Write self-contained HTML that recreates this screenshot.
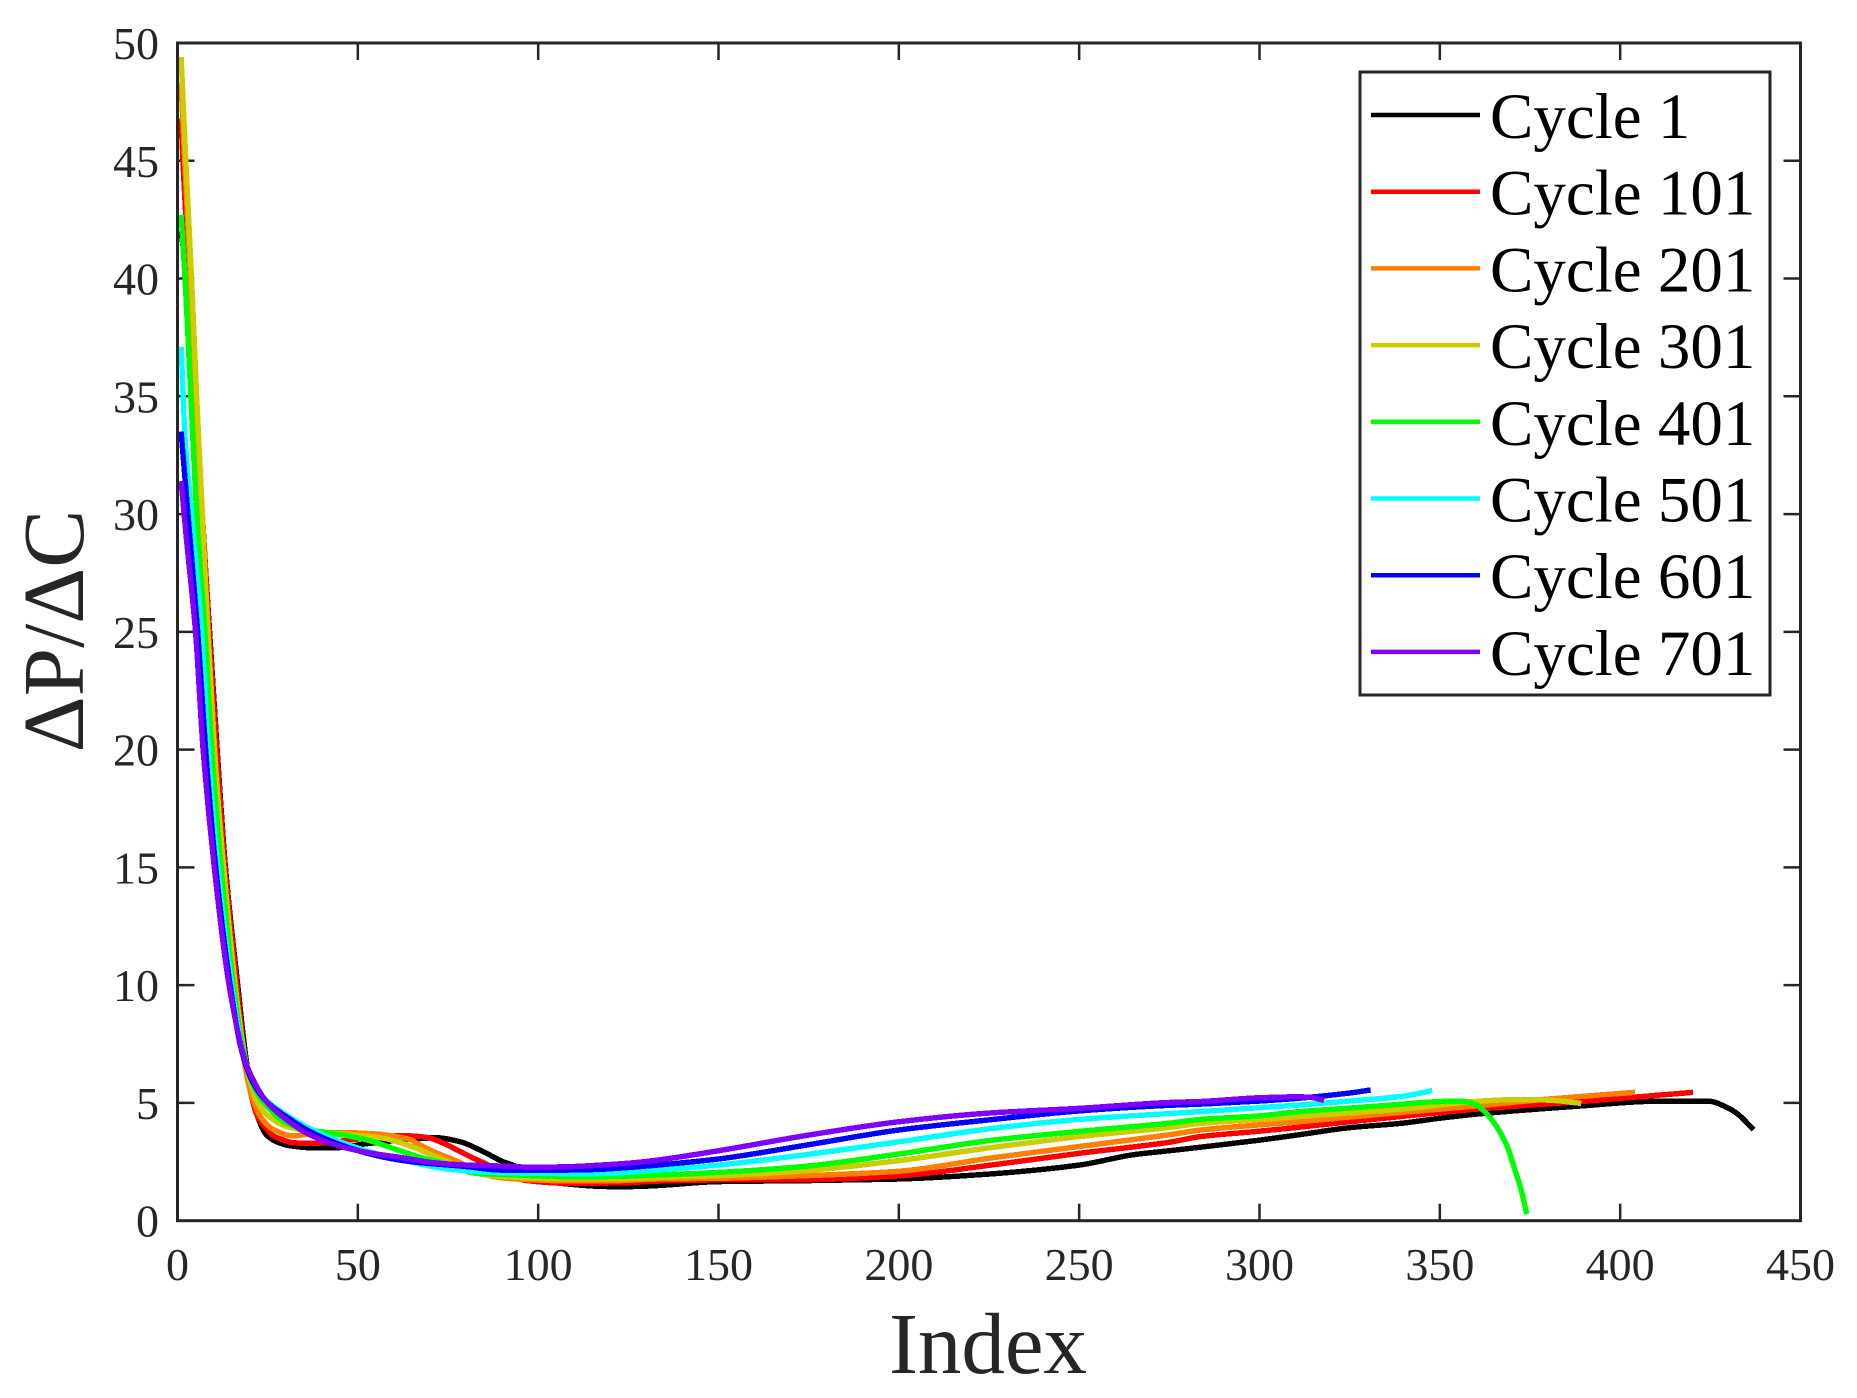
<!DOCTYPE html>
<html lang="en">
<head>
<meta charset="utf-8">
<title>ΔP/ΔC vs Index</title>
<style>
html,body{margin:0;padding:0;background:#fff;width:1857px;height:1398px;overflow:hidden}
svg{display:block;font-family:"Liberation Serif","DejaVu Serif",serif}
</style>
</head>
<body>
<svg id="chart" width="1857" height="1398" viewBox="0 0 1857 1398" xmlns="http://www.w3.org/2000/svg">
  <rect width="1857" height="1398" fill="#fff"/>
  <g id="ticks"></g>
  <g id="series"></g>
  <rect x="177.5" y="43" width="1623" height="1177.7" fill="none" stroke="#262626" stroke-width="3"/>
  <g id="xlabels"></g>
  <g id="ylabels"></g>
  <text x="988" y="1373" font-size="87" fill="#262626" text-anchor="middle">Index</text>
  <text transform="translate(83 631) rotate(-90)" font-size="87" fill="#262626" text-anchor="middle">ΔP/ΔC</text>
  <g id="legend">
    <rect x="1360" y="72" width="410" height="623" fill="#fff" stroke="#262626" stroke-width="3"/>
  </g>
</svg>
<script>
const xTicks = [0, 50, 100, 150, 200, 250, 300, 350, 400, 450];
const yTicks = [0, 5, 10, 15, 20, 25, 30, 35, 40, 45, 50];

const legendLabels = ["Cycle 1", "Cycle 101", "Cycle 201", "Cycle 301", "Cycle 401", "Cycle 501", "Cycle 601", "Cycle 701"];
const lineColors = ["#000000", "#ff0000", "#ff8000", "#cccc00", "#00ff00", "#00ffff", "#0000ff", "#8000ff"];

const cycle1Index = [1,2.6,4.5,6.8,8.9,11,13.3,16.7,18.9,20.5,22.5,24.7,27.5,31.2,36.8,44.2,51.5,57,64,71.9,78.4,84.8,90.3,93,100,108,119,126.4,133,150,174,200,225,250,265,275,283.6,300,311,325,339,350,360.6,390,409.8,424.7,429.6,432.6,437];
const cycle1Value = [42,40,35,30,25,20,15,10,7,5.5,4.3,3.64,3.35,3.18,3.1,3.1,3.25,3.35,3.45,3.52,3.35,2.93,2.5,2.36,1.75,1.56,1.45,1.45,1.49,1.66,1.7,1.77,1.98,2.36,2.8,2.97,3.12,3.42,3.65,3.95,4.13,4.35,4.53,4.88,5.07,5.07,4.81,4.53,3.86];

const cycle101Index = [1,1.5,3.2,4.6,6.9,8.8,10.9,13.2,16.5,18.6,20.2,22,23.8,26.6,29.3,32,36.8,40.4,47.9,57,62.6,69.1,73.7,80.2,84.8,90,97,108,122,133,150,174,200,225,250,275,283.6,300,311,325,339,360.6,390,420.2];
const cycle101Value = [46.8,45,40,35,30,25,20,15,10,7,5.5,4.5,4.06,3.6,3.43,3.31,3.28,3.3,3.43,3.57,3.61,3.54,3.29,2.79,2.46,2.1,1.7,1.59,1.6,1.68,1.73,1.74,1.9,2.35,2.86,3.33,3.57,3.8,3.97,4.2,4.42,4.74,5.07,5.45];

const cycle201Index = [1,2,3.6,5,6.8,8.5,10.3,12.7,15.7,18,20.1,22.9,26.6,32.1,36.8,46,55,64.5,66.3,71,77.4,87.6,94,108,122,133,150,174,200,225,250,275,283.6,300,311,325,339,360.6,380.4,404.1];
const cycle201Value = [48.3,45,40,35,30,25,20,15,10,7.2,5.57,4.44,3.87,3.6,3.68,3.74,3.68,3.45,3.29,2.93,2.53,1.87,1.77,1.69,1.7,1.77,1.8,1.91,2.1,2.65,3.15,3.65,3.85,4.07,4.2,4.4,4.59,4.88,5.17,5.45];

const cycle301Index = [1,2.3,3.9,5.3,6.9,8.4,10.2,12.8,16,18,20,22,24.7,30.3,36.8,46,57,66.3,71,74.7,84.8,94,108,122,133,150,174,200,225,250,275,283.6,300,311,325,339,360.6,370.6,380,389.2];
const cycle301Value = [49.4,45,40,35,30,25,20,15,10,7.6,6,5.1,4.5,4,3.8,3.68,3.5,3.07,2.75,2.53,1.96,1.84,1.77,1.78,1.83,1.91,2.12,2.55,3.09,3.57,3.96,4.13,4.3,4.42,4.58,4.73,5.07,5.14,5.12,4.98];

const cycle401Index = [1,2.1,3.7,5.3,7.6,9.5,12.1,15.5,18,21,24.7,30.3,36.8,46,52.5,61.7,68.2,73.7,83,94,108,117,133,150,174,200,225,250,275,283.6,300,311,325,339,348.8,355.7,359.7,362.6,365.6,368.6,370.6,372.5,374.1];
const cycle401Value = [42.7,40,35,30,25,20,15,10,7.4,5.75,4.87,4.14,3.85,3.64,3.43,2.97,2.65,2.45,2.01,1.94,1.87,1.87,1.94,2.05,2.31,2.83,3.4,3.79,4.14,4.3,4.45,4.63,4.78,4.94,5.05,5.08,4.95,4.6,4.03,3.18,2.26,1.34,0.28];

const cycle501Index = [1,2.2,3.9,6.7,8.5,11.2,15,17.5,20.5,24.7,30,36.8,46,55,64.5,75.6,89.5,108,117,126,133,150,174,200,225,250,275,283.6,300,311,325,339,347.9];
const cycle501Value = [37.1,33,30,25,20,15,10,7.6,6,5.1,4.5,3.9,3.3,2.85,2.5,2.18,2.04,2,2,2.06,2.15,2.36,2.8,3.35,3.9,4.3,4.55,4.63,4.8,4.91,5.08,5.27,5.52];

const cycle601Index = [1,2.9,5.6,7.8,10.6,14.6,17.5,20.5,24.7,30,36.8,46,55,64.5,80,89.5,108,117,126,133,150,174,200,225,250,275,283.6,300,311,325,330.8];
const cycle601Value = [33.5,30,25,20,15,10,7.4,6,5.05,4.43,3.78,3.18,2.77,2.51,2.3,2.15,2.15,2.18,2.27,2.36,2.62,3.2,3.85,4.28,4.66,4.9,4.95,5.08,5.2,5.42,5.55];

const cycle701Index = [1,2.5,5,7.1,10.2,14.3,18.7,21,24.7,30.3,36.8,46,55.2,61.7,71,80.2,89.5,98.6,108,117.2,126.4,133.4,150,174,200,225,250,275,283.6,300,311,315,317.9];
const cycle701Value = [31.4,28.9,25,20,15,10,6.82,5.97,5.05,4.28,3.64,3.12,2.83,2.69,2.46,2.36,2.32,2.27,2.29,2.36,2.46,2.58,2.97,3.61,4.2,4.57,4.77,5.02,5.06,5.22,5.26,5.22,5.1];

const seriesIndex = [cycle1Index, cycle101Index, cycle201Index, cycle301Index, cycle401Index, cycle501Index, cycle601Index, cycle701Index];
const seriesValue = [cycle1Value, cycle101Value, cycle201Value, cycle301Value, cycle401Value, cycle501Value, cycle601Value, cycle701Value];

const NS = "http://www.w3.org/2000/svg";
const plot = {left: 177.5, right: 1800.5, top: 43, bottom: 1220.7};
const domainX = [0, 450];
const domainY = [0, 50];
function xScale(v) { return plot.left + (v - domainX[0]) / (domainX[1] - domainX[0]) * (plot.right - plot.left); }
function yScale(v) { return plot.bottom - (v - domainY[0]) / (domainY[1] - domainY[0]) * (plot.bottom - plot.top); }

function smoothPath(xs, ys) {
  const n = xs.length;
  const d = [], m = [];
  for (let i = 0; i < n - 1; i++) d.push((ys[i + 1] - ys[i]) / (xs[i + 1] - xs[i]));
  m[0] = d[0];
  m[n - 1] = d[n - 2];
  for (let i = 1; i < n - 1; i++) {
    m[i] = d[i - 1] * d[i] <= 0 ? 0 : 2 * d[i - 1] * d[i] / (d[i - 1] + d[i]);
  }
  let p = "M" + xs[0].toFixed(2) + " " + ys[0].toFixed(2);
  for (let i = 0; i < n - 1; i++) {
    const h = (xs[i + 1] - xs[i]) / 3;
    p += "C" + (xs[i] + h).toFixed(2) + " " + (ys[i] + m[i] * h).toFixed(2) + " " +
         (xs[i + 1] - h).toFixed(2) + " " + (ys[i + 1] - m[i + 1] * h).toFixed(2) + " " +
         xs[i + 1].toFixed(2) + " " + ys[i + 1].toFixed(2);
  }
  return p;
}

const tickGroup = document.getElementById("ticks");
const xLabelGroup = document.getElementById("xlabels");
const yLabelGroup = document.getElementById("ylabels");
const TICK = 17;

function addTick(x1, y1, x2, y2, name) {
  const t = document.createElementNS(NS, "line");
  t.setAttribute("x1", x1);
  t.setAttribute("y1", y1);
  t.setAttribute("x2", x2);
  t.setAttribute("y2", y2);
  t.setAttribute("stroke", "#262626");
  t.setAttribute("stroke-width", "2.5");
  
  
  tickGroup.appendChild(t);
}

xTicks.forEach(function (v) {
  const x = xScale(v);
  addTick(x, plot.bottom, x, plot.bottom - TICK, "x-tick-bottom");
  addTick(x, plot.top, x, plot.top + TICK, "x-tick-top");
  const label = document.createElementNS(NS, "text");
  label.setAttribute("x", x);
  label.setAttribute("y", 1280);
  label.setAttribute("font-size", "46");
  label.setAttribute("fill", "#262626");
  label.setAttribute("text-anchor", "middle");
  
  
  label.textContent = v;
  xLabelGroup.appendChild(label);
});

yTicks.forEach(function (v) {
  const y = yScale(v);
  addTick(plot.left, y, plot.left + TICK, y, "y-tick-left");
  addTick(plot.right, y, plot.right - TICK, y, "y-tick-right");
  const label = document.createElementNS(NS, "text");
  label.setAttribute("x", 159);
  label.setAttribute("y", y + 16);
  label.setAttribute("font-size", "46");
  label.setAttribute("fill", "#262626");
  label.setAttribute("text-anchor", "end");
  
  
  label.textContent = v;
  yLabelGroup.appendChild(label);
});

const seriesGroup = document.getElementById("series");
seriesIndex.forEach(function (idx, s) {
  const path = document.createElementNS(NS, "path");
  path.setAttribute("d", smoothPath(idx.map(xScale), seriesValue[s].map(yScale)));
  path.setAttribute("fill", "none");
  path.setAttribute("stroke", lineColors[s]);
  path.setAttribute("stroke-width", "5.4");
  path.setAttribute("stroke-linejoin", "round");
  path.setAttribute("shape-rendering", "crispEdges");
  
  
  seriesGroup.appendChild(path);
});

const legendGroup = document.getElementById("legend");
legendLabels.forEach(function (name, i) {
  const cy = 115 + i * 76.7;
  const sample = document.createElementNS(NS, "line");
  sample.setAttribute("x1", 1371);
  sample.setAttribute("x2", 1480);
  sample.setAttribute("y1", cy);
  sample.setAttribute("y2", cy);
  sample.setAttribute("stroke", lineColors[i]);
  sample.setAttribute("stroke-width", "4.5");
  
  
  legendGroup.appendChild(sample);
  const text = document.createElementNS(NS, "text");
  text.setAttribute("x", 1490);
  text.setAttribute("y", cy + 23);
  text.setAttribute("font-size", "65");
  text.setAttribute("fill", "#000");
  
  
  text.textContent = name;
  legendGroup.appendChild(text);
});
</script>
</body>
</html>
